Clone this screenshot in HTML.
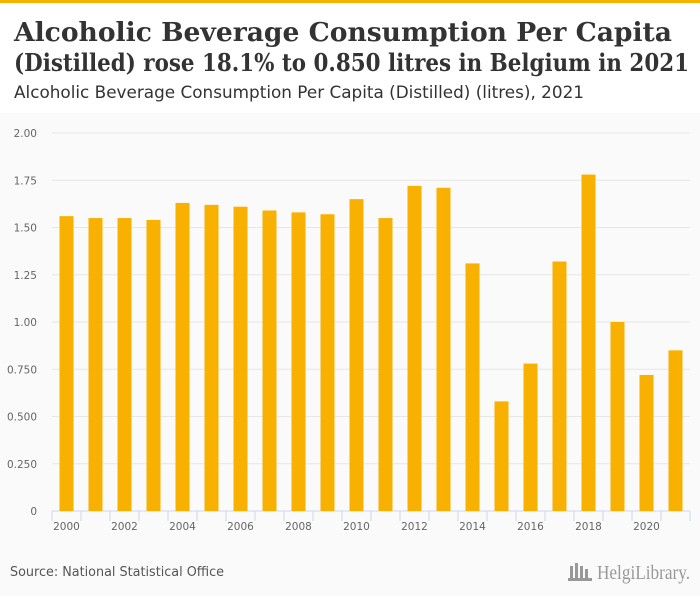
<!DOCTYPE html>
<html><head><meta charset="utf-8"><style>
body{margin:0;width:700px;height:596px;background:#fafafa;font-family:"Liberation Sans",sans-serif;overflow:hidden;position:relative}
#top{position:absolute;left:0;top:0;width:700px;height:3px;background:#f8b100}
#head{position:absolute;left:0;top:3px;width:700px;height:110px;background:#fff}
</style></head><body>
<div id="top"></div>
<div id="head"></div>
<svg id="txt" width="700" height="596" style="position:absolute;left:0;top:0">
<text font-family="DejaVu Serif, serif" font-weight="bold" fill="#333"><tspan x="14" y="41" font-size="26" textLength="658" lengthAdjust="spacingAndGlyphs">Alcoholic Beverage Consumption Per Capita</tspan><tspan x="14" y="71" font-size="24" textLength="675" lengthAdjust="spacingAndGlyphs">(Distilled) rose 18.1% to 0.850 litres in Belgium in 2021</tspan></text>
<text x="14" y="98" font-family="DejaVu Sans, sans-serif" font-size="17" fill="#333" textLength="570" lengthAdjust="spacingAndGlyphs">Alcoholic Beverage Consumption Per Capita (Distilled) (litres), 2021</text>
<text x="10" y="576" font-family="DejaVu Sans, sans-serif" font-size="13" fill="#555" textLength="214" lengthAdjust="spacingAndGlyphs">Source: National Statistical Office</text>
<g>
<rect x="570" y="566" width="3" height="14" fill="#999"/><rect x="575" y="563" width="3" height="17" fill="#999"/><rect x="580" y="566" width="3" height="14" fill="#999"/><rect x="585" y="569" width="3" height="11" fill="#999"/><rect x="568" y="578" width="24" height="3" fill="#999"/>
<text x="597" y="579" font-family="Liberation Serif, serif" font-size="20" fill="#999" textLength="93" lengthAdjust="spacingAndGlyphs">HelgiLibrary.</text>
</g>
</svg>
<svg id="chart" width="700" height="596" style="position:absolute;left:0;top:0"></svg>
<script>
const years=[2000,2001,2002,2003,2004,2005,2006,2007,2008,2009,2010,2011,2012,2013,2014,2015,2016,2017,2018,2019,2020,2021];
const values=[1.56,1.55,1.55,1.54,1.63,1.62,1.61,1.59,1.58,1.57,1.65,1.55,1.72,1.71,1.31,0.58,0.78,1.32,1.78,1.00,0.72,0.85];
const yTicks=[0,0.25,0.5,0.75,1.0,1.25,1.5,1.75,2.0];
const yTickLabels=["0","0.250","0.500","0.750","1.00","1.25","1.50","1.75","2.00"];
const svg=document.getElementById('chart');const NS='http://www.w3.org/2000/svg';
const L=52,R=690,T=133,B=511,yMax=2;
const step=(R-L)/years.length;
const y=v=>B-(v/yMax)*(B-T);
const x=i=>L+step*i;
function mk(t,a){const e=document.createElementNS(NS,t);for(const k in a)e.setAttribute(k,a[k]);svg.appendChild(e);return e;}
yTicks.forEach((v,i)=>{
 const g=mk('line',{x1:L,x2:R,y1:y(v),y2:y(v),stroke:v===0?'#ccd6eb':'#e6e6e6','stroke-width':1});
 
 
 const t=mk('text',{x:37,y:y(v)+4,'text-anchor':'end','font-family':'DejaVu Sans, sans-serif','font-size':10.5,fill:'#666'});
 t.textContent=yTickLabels[i];
 
 
});
values.forEach((v,i)=>{
 const r=mk('rect',{x:x(i)+step/2-7,y:y(v),width:14,height:B-y(v),fill:'#f8b100'});
 
 
});
for(let i=0;i<=years.length;i++){
 const l=mk('line',{x1:x(i),x2:x(i),y1:B,y2:B+10,stroke:'#ccd6eb'});
 
 
}
years.forEach((yr,i)=>{if(i%2)return;
 const t=mk('text',{x:x(i)+step/2,y:B+19,'text-anchor':'middle','font-family':'DejaVu Sans, sans-serif','font-size':10.5,fill:'#666'});
 t.textContent=yr;
 
 
});
</script>
</body></html>
